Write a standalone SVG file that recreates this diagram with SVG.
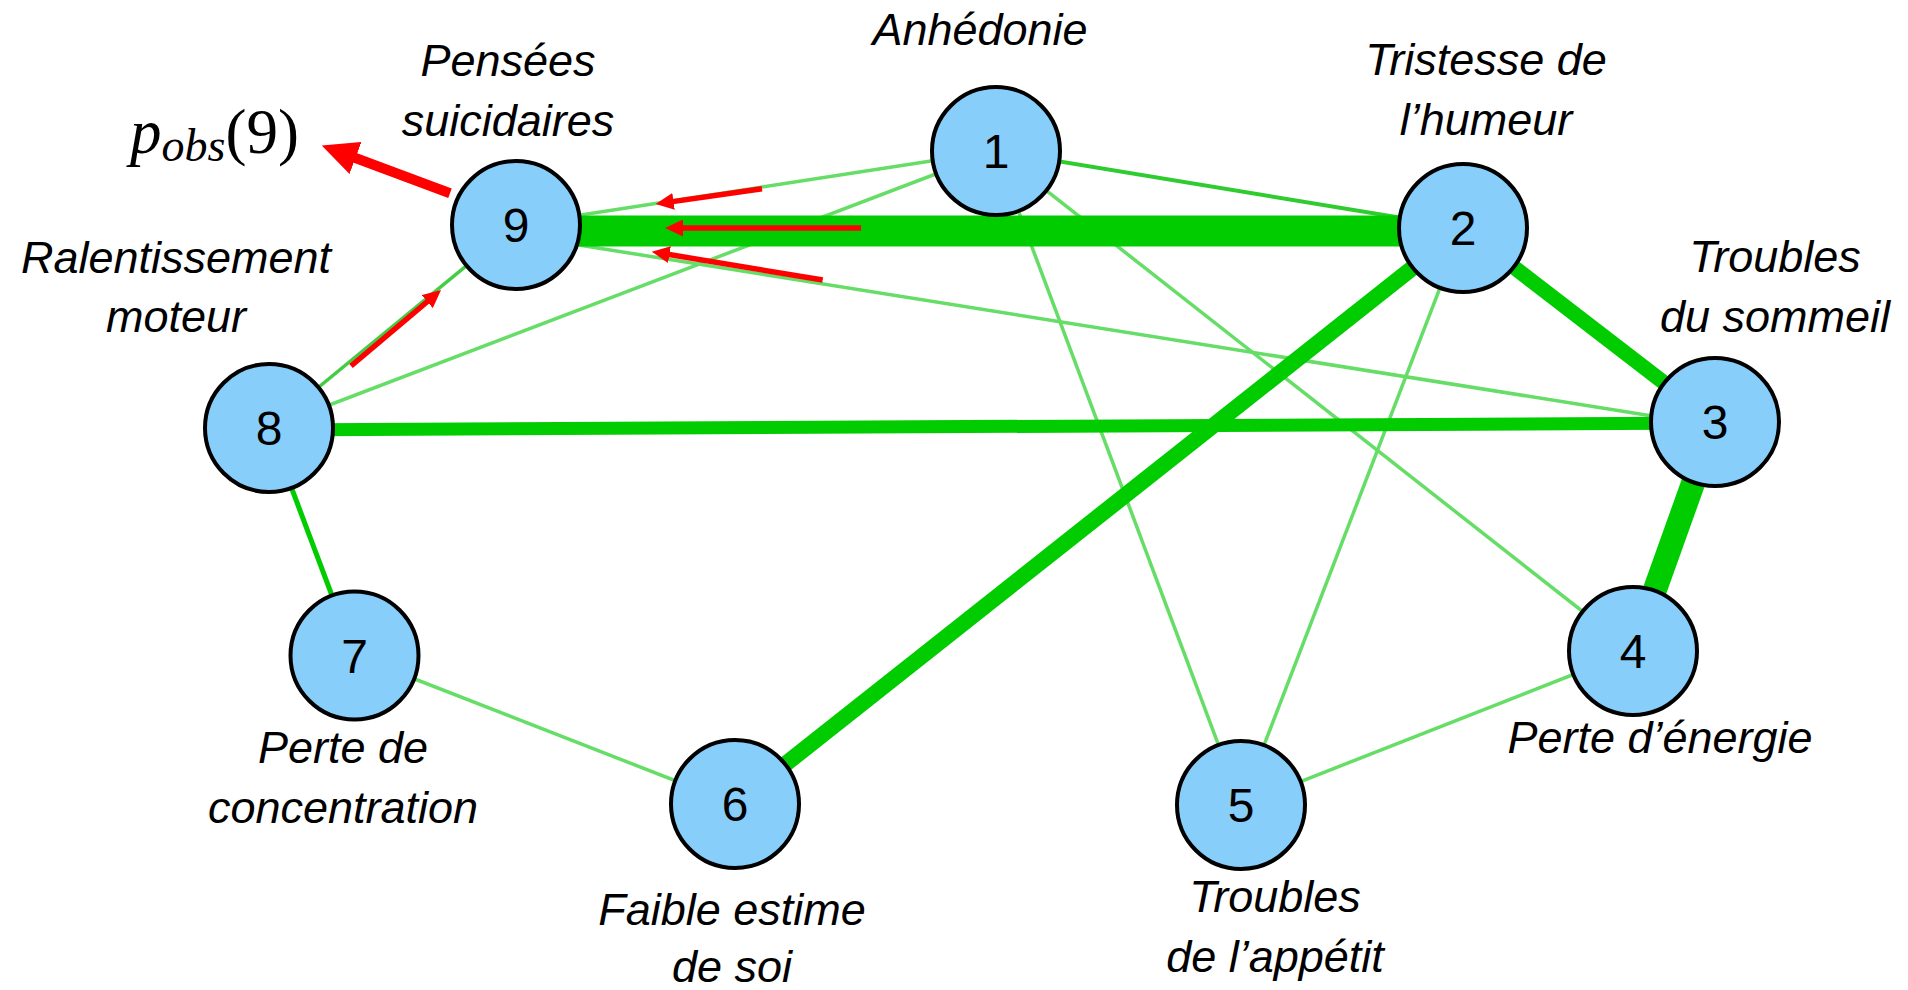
<svg xmlns="http://www.w3.org/2000/svg" width="1908" height="990" viewBox="0 0 1908 990">
<style>
.node circle{fill:#87CEFA;stroke:#000;stroke-width:4}
.node .num{font-family:"Liberation Sans",Arial,sans-serif;font-size:48px;text-anchor:middle;fill:#000}
.lbl{font-family:"Liberation Sans",Arial,sans-serif;font-style:italic;font-size:45px;text-anchor:middle;fill:#000}
.e{stroke-linecap:butt;fill:none}
.light{stroke:#66DD66;stroke-width:3.5}
.mid{stroke:#2ECC2E;stroke-width:4}
.dark{stroke:#00CC00}
.red{stroke:#FF0000;fill:none}
</style>
<defs>
<marker id="ah" markerUnits="userSpaceOnUse" markerWidth="18" markerHeight="17" refX="8" refY="8.5" orient="auto" viewBox="0 0 18 17">
<path d="M0,0 L18,8.5 L0,17 z" fill="#FF0000"/>
</marker>
<marker id="ahBig" markerUnits="userSpaceOnUse" markerWidth="36" markerHeight="34" refX="10" refY="17" orient="auto" viewBox="0 0 36 34">
<path d="M0,0 L36,17 L0,34 z" fill="#FF0000"/>
</marker>
</defs>
<rect width="1908" height="990" fill="#FFFFFF"/>

<g id="connectors">
<line class="e light" x1="516" y1="225" x2="996" y2="151"/>
<line class="e light" x1="269" y1="428" x2="996" y2="151"/>
<line class="e light" x1="516" y1="235" x2="1715" y2="426"/>
<line class="e light" x1="996" y1="151" x2="1241" y2="805"/>
<line class="e light" x1="996" y1="151" x2="1633" y2="651"/>
<line class="e light" x1="1463" y1="228" x2="1241" y2="805"/>
<line class="e light" x1="354.5" y1="655.5" x2="735" y2="804"/>
<line class="e light" x1="1241" y1="805" x2="1633" y2="651"/>
<line class="e mid" x1="269" y1="428" x2="516" y2="225" style="stroke:#44CC44;stroke-width:3.5"/>
<line class="e mid" x1="996" y1="151" x2="1463" y2="228"/>
<line class="e dark" x1="269" y1="428" x2="354.5" y2="655.5" stroke-width="5"/>
<line class="e dark" x1="269" y1="430" x2="1715" y2="423" stroke-width="13"/>
<line class="e dark" x1="1463" y1="228" x2="1715" y2="422" stroke-width="15"/>
<line class="e dark" x1="1715" y1="422" x2="1633" y2="651" stroke-width="24"/>
<line class="e dark" x1="1463" y1="228" x2="735" y2="804" stroke-width="16"/>
<line class="e dark" x1="516" y1="231" x2="1463" y2="231" stroke-width="31"/>
</g>

<g id="node1" class="node"><circle cx="996" cy="151" r="64"/><text class="num" x="996" y="168">1</text></g>
<g id="node2" class="node"><circle cx="1463" cy="228" r="64"/><text class="num" x="1463" y="245">2</text></g>
<g id="node3" class="node"><circle cx="1715" cy="422" r="64"/><text class="num" x="1715" y="439">3</text></g>
<g id="node4" class="node"><circle cx="1633" cy="651" r="64"/><text class="num" x="1633" y="668">4</text></g>
<g id="node5" class="node"><circle cx="1241" cy="805" r="64"/><text class="num" x="1241" y="822">5</text></g>
<g id="node6" class="node"><circle cx="735" cy="804" r="64"/><text class="num" x="735" y="821">6</text></g>
<g id="node7" class="node"><circle cx="354.5" cy="655.5" r="64"/><text class="num" x="354.5" y="672.5">7</text></g>
<g id="node8" class="node"><circle cx="269" cy="428" r="64"/><text class="num" x="269" y="445">8</text></g>
<g id="node9" class="node"><circle cx="516" cy="225" r="64"/><text class="num" x="516" y="242">9</text></g>

<g id="arrows">
<line class="red" x1="450" y1="193.3" x2="346.1" y2="154.5" stroke-width="10" marker-end="url(#ahBig)"/>
<line class="red" x1="762" y1="188.7" x2="665.6" y2="202.6" stroke-width="5.5" marker-end="url(#ah)"/>
<line class="red" x1="861" y1="228" x2="675" y2="228" stroke-width="5.5" marker-end="url(#ah)"/>
<line class="red" x1="822.7" y1="280" x2="661.6" y2="253.3" stroke-width="5.5" marker-end="url(#ah)"/>
<line class="red" x1="351" y1="366" x2="433.4" y2="296.5" stroke-width="5.5" marker-end="url(#ah)"/>
</g>

<g id="labels">
<text class="lbl" x="980" y="45">Anhédonie</text>
<text class="lbl" x="508" y="76">Pensées</text>
<text class="lbl" x="508" y="136">suicidaires</text>
<text class="lbl" x="1486" y="75">Tristesse de</text>
<text class="lbl" x="1486" y="135">l’humeur</text>
<text class="lbl" x="1775" y="272">Troubles</text>
<text class="lbl" x="1775" y="332">du sommeil</text>
<text class="lbl" x="176" y="273">Ralentissement</text>
<text class="lbl" x="176" y="332">moteur</text>
<text class="lbl" x="343" y="763">Perte de</text>
<text class="lbl" x="343" y="823">concentration</text>
<text class="lbl" x="732" y="925">Faible estime</text>
<text class="lbl" x="732" y="982">de soi</text>
<text class="lbl" x="1660" y="753">Perte d’énergie</text>
<text class="lbl" x="1275" y="912">Troubles</text>
<text class="lbl" x="1275" y="972">de l’appétit</text>
<text x="130" y="153" font-family="'Liberation Serif','DejaVu Serif',serif" font-size="63" fill="#000"><tspan font-style="italic">p</tspan><tspan font-style="italic" font-size="46" dy="8">obs</tspan><tspan dy="-8">(9)</tspan></text>
</g>
</svg>
